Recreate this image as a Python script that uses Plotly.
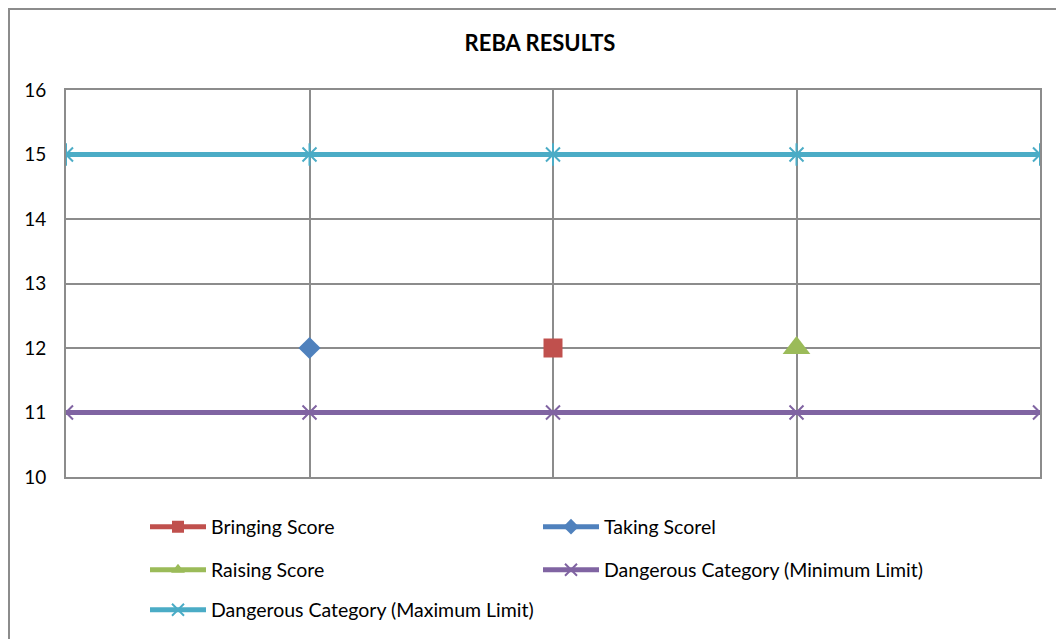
import plotly.graph_objects as go

categories = [1, 2, 3, 4, 5]
bringing = [None, None, 12, None, None]
taking = [None, 12, None, None, None]
raising = [None, None, None, 12, None]
min_limit = [11, 11, 11, 11, 11]
max_limit = [15, 15, 15, 15, 15]
y_ticks = [10, 11, 12, 13, 14, 15, 16]

FONT = "Lato"
RED, BLUE, GREEN, PURPLE, CYAN = "#C0504D", "#4F81BD", "#9BBB59", "#8064A2", "#4BACC6"
GRID = "#8C8C8C"
OFF = 8  # page body margin

fig = go.Figure()
fig.add_trace(go.Scatter(x=categories, y=max_limit, mode="lines+markers", name="Dangerous Category (Maximum Limit)",
                         line=dict(color=CYAN, width=5),
                         marker=dict(symbol="x-thin-open", size=14, color=CYAN, line=dict(color=CYAN, width=2)),
                         legend="legend3", legendrank=5))
fig.add_trace(go.Scatter(x=categories, y=max_limit, mode="markers", showlegend=False,
                         marker=dict(symbol="line-ns-open", size=16, color=CYAN, line=dict(color=CYAN, width=2)),
                         hoverinfo="skip"))
fig.add_trace(go.Scatter(x=categories, y=min_limit, mode="lines+markers", name="Dangerous Category (Minimum Limit)",
                         line=dict(color=PURPLE, width=5),
                         marker=dict(symbol="x-thin-open", size=14, color=PURPLE, line=dict(color=PURPLE, width=2)),
                         legend="legend2", legendrank=4))
fig.add_trace(go.Scatter(x=categories, y=bringing, mode="lines+markers", name="Bringing Score",
                         line=dict(color=RED, width=5),
                         marker=dict(symbol="square", size=19, color=RED), legend="legend", legendrank=1))
fig.add_trace(go.Scatter(x=categories, y=taking, mode="lines+markers", name="Taking Scorel",
                         line=dict(color=BLUE, width=5),
                         marker=dict(symbol="diamond", size=17, color=BLUE), legend="legend", legendrank=2))
fig.add_trace(go.Scatter(x=categories, y=raising, mode="lines+markers", name="Raising Score",
                         line=dict(color=GREEN, width=5),
                         marker=dict(symbol="triangle-up", size=24, color=GREEN), legend="legend2", legendrank=3))

L, R, T, B = 66, 1040, 90, 477
H = float(B - T)
W = float(R - L)
def py(pix):
    return (B - pix) / H
def px(pix):
    return (pix - L) / W

leg_common = dict(orientation="h", xanchor="left", yanchor="middle", entrywidth=322,
                  font=dict(family=FONT, size=19.5, color="#000000"), itemwidth=56,
                  bgcolor="rgba(0,0,0,0)", tracegroupgap=0, traceorder="normal", itemsizing="constant")

fig.update_layout(
    width=1064 - OFF, height=639 - OFF,
    margin=dict(l=L - OFF, r=1064 - R, t=T - OFF, b=639 - B, autoexpand=False),
    paper_bgcolor="white", plot_bgcolor="white",
    title=dict(text="<b>REBA RESULTS</b>", x=(540 - OFF) / (1064 - OFF), xanchor="center",
               y=1 - (43 - OFF) / (639 - OFF), yanchor="middle",
               font=dict(family=FONT, size=22, color="#000000")),
    font=dict(family=FONT, size=19, color="#000000"),
    xaxis=dict(range=[1, 5], tickvals=categories, showticklabels=False, showgrid=True, gridcolor=GRID,
               gridwidth=1.5, zeroline=False, showline=True, linecolor=GRID, linewidth=2, mirror=True, ticks=""),
    yaxis=dict(range=[10, 16], tickvals=y_ticks, showgrid=True, gridcolor=GRID, gridwidth=1.5, zeroline=False,
               showline=True, linecolor=GRID, linewidth=2, mirror=True, ticks="", ticklabelstandoff=14,
               tickfont=dict(family=FONT, size=19, color="#000000")),
    legend=dict(x=px(145), y=py(527), **leg_common),
    legend2=dict(x=px(145), y=py(570), **leg_common),
    legend3=dict(x=px(145), y=py(610), **leg_common),
    showlegend=True,
    shapes=[dict(type="rect", xref="paper", yref="paper", x0=px(OFF + 1), x1=px(1075), y0=py(650), y1=py(OFF + 1),
                 line=dict(color=GRID, width=2), fillcolor="rgba(0,0,0,0)", layer="below")],
)

fig.write_html("out.html")
